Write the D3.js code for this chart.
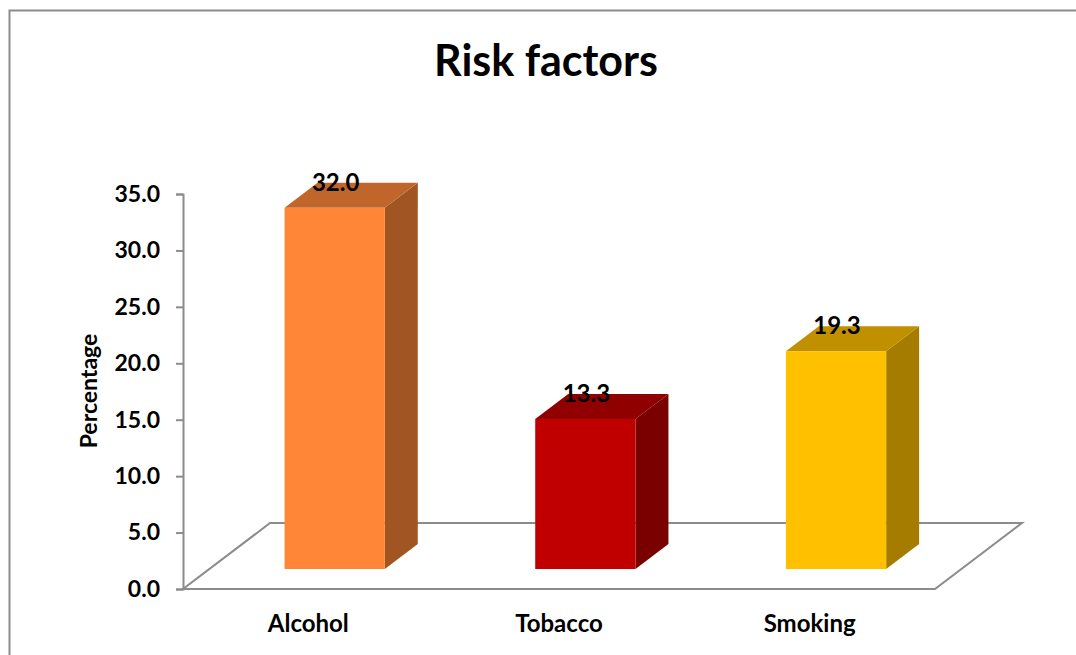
<!DOCTYPE html>
<html>
<head>
<meta charset="utf-8">
<script src="https://cdn.jsdelivr.net/npm/d3@7"></script>
<style>
  html, body { margin: 0; padding: 0; background: #fff; }
  svg { display: block; }
  text { font-family: Lato, "Open Sans", "Liberation Sans", sans-serif; font-weight: bold; fill: #000; }
</style>
</head>
<body>
<svg id="chart" width="1076" height="655"></svg>
<script>
// Chart data
const categories = ["Alcohol", "Tobacco", "Smoking"];
const values = [32.0, 13.3, 19.3];
const tickValues = [0, 5, 10, 15, 20, 25, 30, 35];
const titleText = "Risk factors";
const yAxisTitle = "Percentage";

// Face colours per bar: front, top, side
const palette = [
  { front: "#FF8636", top: "#C1662B", side: "#A15522" },
  { front: "#C00000", top: "#900000", side: "#7A0000" },
  { front: "#FFC000", top: "#C09000", side: "#A67C00" }
];

const svg = d3.select("#chart");

// Outer frame
svg.append("rect")
  .attr("x", 9.5).attr("y", 10.5)
  .attr("width", 1200).attr("height", 800)
  .attr("fill", "none")
  .attr("stroke", "#8c8c8c")
  .attr("stroke-width", 2);

// Title
svg.append("text")
  .attr("x", 546).attr("y", 76)
  .attr("text-anchor", "middle")
  .style("font-size", "43px")
  .text(titleText);

// Plot geometry
const floorLeft = 183, floorRight = 935, floorY = 589;
const depthX = 87, depthY = -66;             // floor depth vector
const barFront = 20 / 66, barBack = 45 / 66; // bar depth position within floor

const x = d3.scaleBand().domain(categories).range([floorLeft, floorRight]).paddingInner(0).paddingOuter(0);
const y = d3.scaleLinear().domain([0, 35]).range([floorY, 194]);

// Floor (3D base plane)
const floorPts = [
  [floorLeft, floorY],
  [floorRight, floorY],
  [floorRight + depthX, floorY + depthY],
  [floorLeft + depthX, floorY + depthY]
];
svg.append("polygon")
  .attr("points", floorPts.map(p => p.join(",")).join(" "))
  .attr("fill", "none")
  .attr("stroke", "#8c8c8c")
  .attr("stroke-width", 2)
  .attr("stroke-linejoin", "miter");

// Y axis
const yAxis = d3.axisLeft(y)
  .tickValues(tickValues)
  .tickFormat(d3.format(".1f"))
  .tickSize(7)
  .tickPadding(16);
const gy = svg.append("g")
  .attr("transform", `translate(${floorLeft},0)`)
  .call(yAxis);
gy.select(".domain").attr("stroke", "#8c8c8c").attr("stroke-width", 2);
gy.selectAll(".tick line").attr("stroke", "#8c8c8c").attr("stroke-width", 2);
gy.selectAll(".tick text")
  .style("font-size", "23px")
  .style("font-family", "Lato, 'Open Sans', sans-serif")
  .style("font-weight", "bold")
  .attr("fill", "#000");

// Y axis title
svg.append("text")
  .attr("transform", "translate(97,391) rotate(-90)")
  .attr("text-anchor", "middle")
  .style("font-size", "23px")
  .text(yAxisTitle);

// Bars
const bw = x.bandwidth() * 0.4;
const fx = depthX * barFront, fy = depthY * barFront;
const bdx = depthX * (barBack - barFront), bdy = depthY * (barBack - barFront);

const bars = svg.append("g").selectAll("g")
  .data(categories.map((c, i) => ({ c, v: values[i], col: palette[i] })))
  .join("g");

bars.each(function (d) {
  const g = d3.select(this);
  const x0 = x(d.c) + x.bandwidth() * 0.3 + fx;
  const x1 = x0 + bw;
  const yb = floorY + fy;
  const yt = yb - (y(0) - y(d.v));
  // side face
  g.append("polygon")
    .attr("points", [[x1, yb], [x1 + bdx, yb + bdy], [x1 + bdx, yt + bdy], [x1, yt]].map(p => p.join(",")).join(" "))
    .attr("fill", d.col.side);
  // top face
  g.append("polygon")
    .attr("points", [[x0, yt], [x1, yt], [x1 + bdx, yt + bdy], [x0 + bdx, yt + bdy]].map(p => p.join(",")).join(" "))
    .attr("fill", d.col.top);
  // front face
  g.append("rect")
    .attr("x", x0).attr("y", yt)
    .attr("width", bw).attr("height", yb - yt)
    .attr("fill", d.col.front);
  // value label
  g.append("text")
    .attr("x", (x0 + x1) / 2 + 1)
    .attr("y", yt - 17)
    .attr("text-anchor", "middle")
    .style("font-size", "24px")
    .text(d3.format(".1f")(d.v));
});

// Category labels
svg.append("g").selectAll("text")
  .data(categories)
  .join("text")
  .attr("x", d => x(d) + x.bandwidth() / 2)
  .attr("y", 632)
  .attr("text-anchor", "middle")
  .style("font-size", "24px")
  .text(d => d);
</script>
</body>
</html>
